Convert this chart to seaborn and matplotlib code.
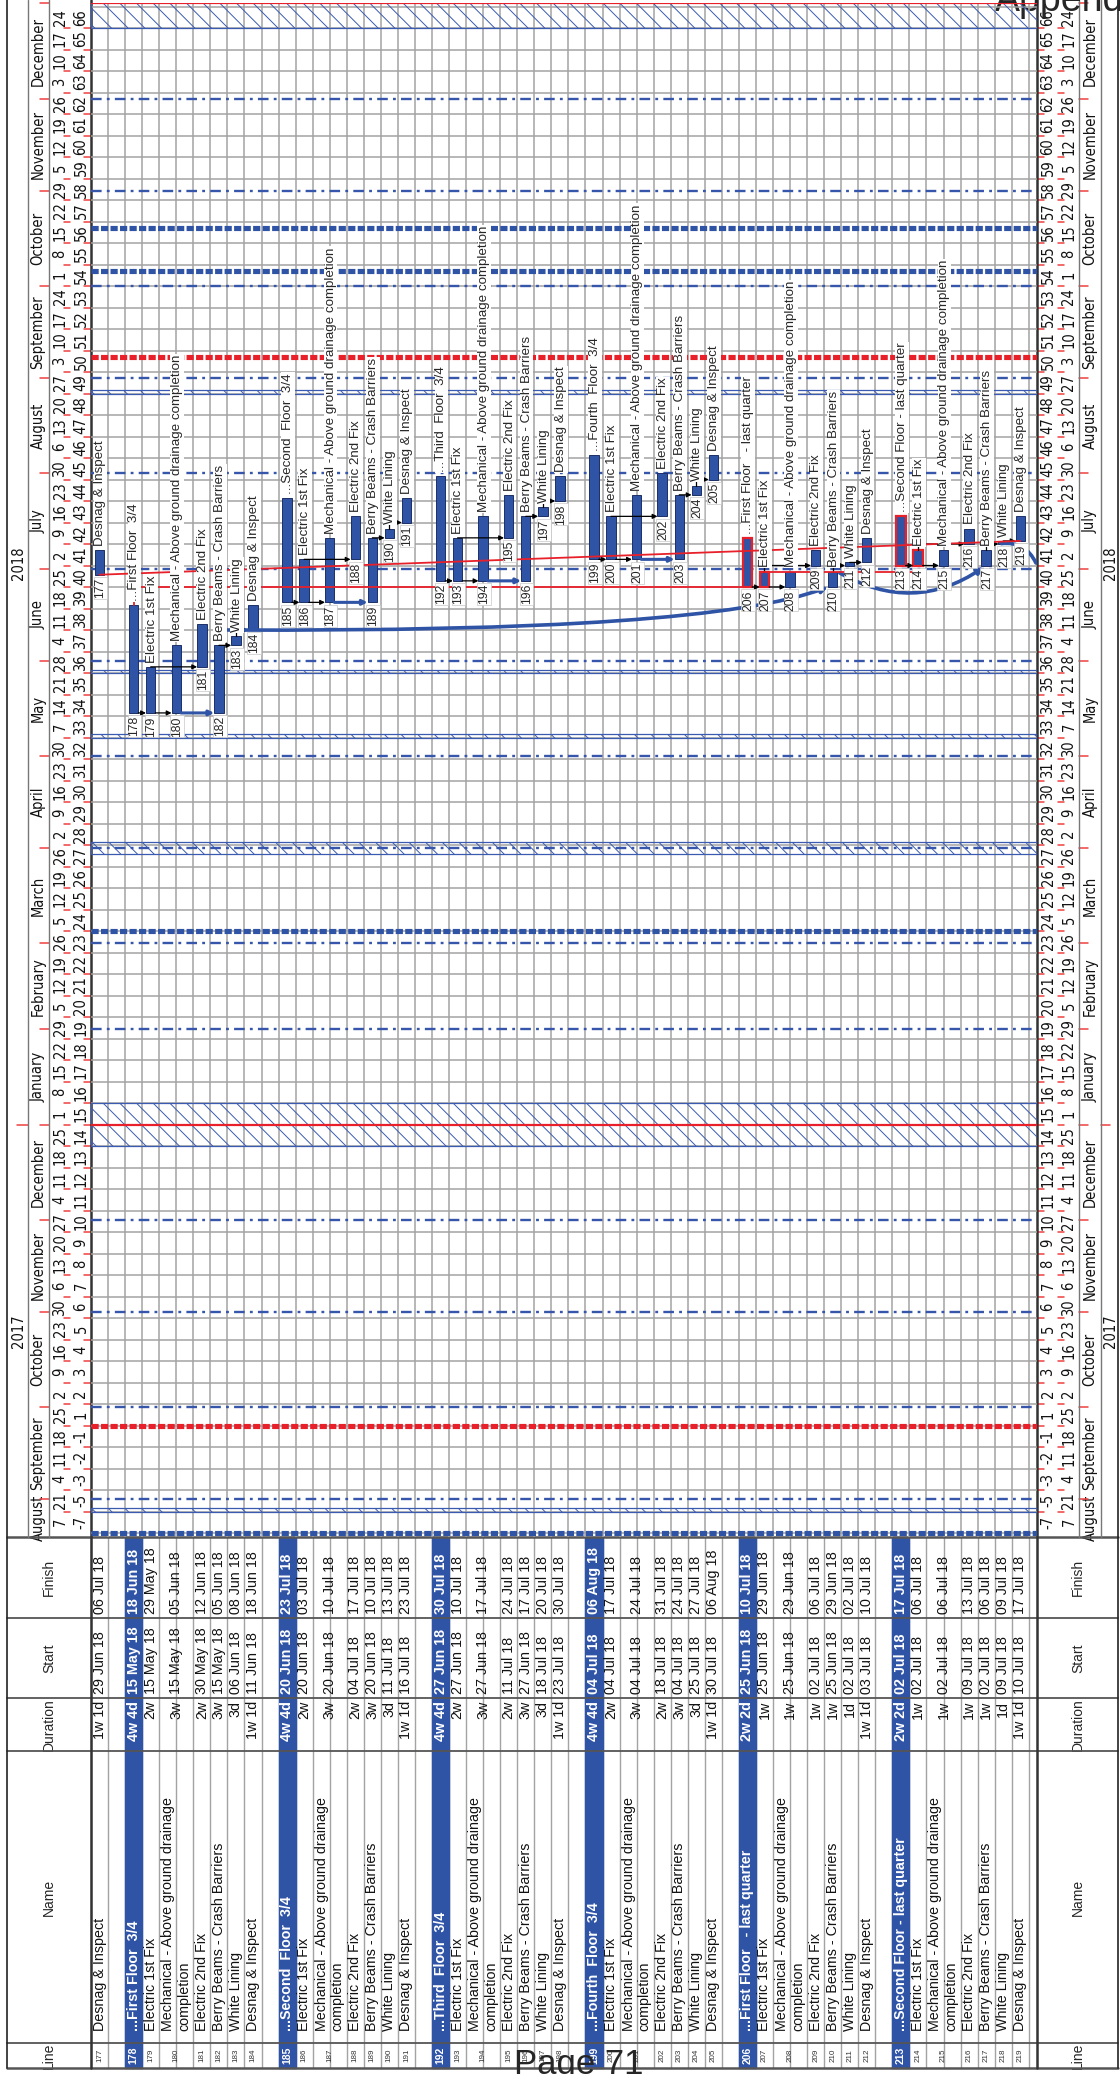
import pandas as pd
import numpy as np
import matplotlib
matplotlib.use("Agg")
import matplotlib.pyplot as plt
import matplotlib.transforms as mtransforms
from matplotlib.patches import Rectangle, FancyArrowPatch
from matplotlib.path import Path
import seaborn as sns

sns.set_theme(style="white")
plt.rcParams['font.family'] = ['Liberation Sans', 'DejaVu Sans']
plt.rcParams['hatch.color'] = '#3a5bb0'
plt.rcParams['hatch.linewidth'] = 0.7

line_no = [177, 178, 179, 180, 181, 182, 183, 184,
           185, 186, 187, 188, 189, 190, 191,
           192, 193, 194, 195, 196, 197, 198,
           199, 200, 201, 202, 203, 204, 205,
           206, 207, 208, 209, 210, 211, 212,
           213, 214, 215, 216, 217, 218, 219]
task_name = ['Desnag & Inspect', '...First Floor  3/4', 'Electric 1st Fix',
             'Mechanical - Above ground drainage\ncompletion', 'Electric 2nd Fix',
             'Berry Beams - Crash Barriers', 'White Lining', 'Desnag & Inspect',
             '...Second  Floor  3/4', 'Electric 1st Fix',
             'Mechanical - Above ground drainage\ncompletion', 'Electric 2nd Fix',
             'Berry Beams - Crash Barriers', 'White Lining', 'Desnag & Inspect',
             '...Third  Floor  3/4', 'Electric 1st Fix',
             'Mechanical - Above ground drainage\ncompletion', 'Electric 2nd Fix',
             'Berry Beams - Crash Barriers', 'White Lining', 'Desnag & Inspect',
             '...Fourth  Floor  3/4', 'Electric 1st Fix',
             'Mechanical - Above ground drainage\ncompletion', 'Electric 2nd Fix',
             'Berry Beams - Crash Barriers', 'White Lining', 'Desnag & Inspect',
             '...First Floor   - last quarter', 'Electric 1st Fix',
             'Mechanical - Above ground drainage\ncompletion', 'Electric 2nd Fix',
             'Berry Beams - Crash Barriers', 'White Lining', 'Desnag & Inspect',
             '...Second Floor - last quarter', 'Electric 1st Fix',
             'Mechanical - Above ground drainage\ncompletion', 'Electric 2nd Fix',
             'Berry Beams - Crash Barriers', 'White Lining', 'Desnag & Inspect']
duration = ['1w 1d', '4w 4d', '2w', '3w', '2w', '3w', '3d', '1w 1d',
            '4w 4d', '2w', '3w', '2w', '3w', '3d', '1w 1d',
            '4w 4d', '2w', '3w', '2w', '3w', '3d', '1w 1d',
            '4w 4d', '2w', '3w', '2w', '3w', '3d', '1w 1d',
            '2w 2d', '1w', '1w', '1w', '1w', '1d', '1w 1d',
            '2w 2d', '1w', '1w', '1w', '1w', '1d', '1w 1d']
start = ['29 Jun 18', '15 May 18', '15 May 18', '15 May 18', '30 May 18', '15 May 18', '06 Jun 18', '11 Jun 18',
         '20 Jun 18', '20 Jun 18', '20 Jun 18', '04 Jul 18', '20 Jun 18', '11 Jul 18', '16 Jul 18',
         '27 Jun 18', '27 Jun 18', '27 Jun 18', '11 Jul 18', '27 Jun 18', '18 Jul 18', '23 Jul 18',
         '04 Jul 18', '04 Jul 18', '04 Jul 18', '18 Jul 18', '04 Jul 18', '25 Jul 18', '30 Jul 18',
         '25 Jun 18', '25 Jun 18', '25 Jun 18', '02 Jul 18', '25 Jun 18', '02 Jul 18', '03 Jul 18',
         '02 Jul 18', '02 Jul 18', '02 Jul 18', '09 Jul 18', '02 Jul 18', '09 Jul 18', '10 Jul 18']
finish = ['06 Jul 18', '18 Jun 18', '29 May 18', '05 Jun 18', '12 Jun 18', '05 Jun 18', '08 Jun 18', '18 Jun 18',
          '23 Jul 18', '03 Jul 18', '10 Jul 18', '17 Jul 18', '10 Jul 18', '13 Jul 18', '23 Jul 18',
          '30 Jul 18', '10 Jul 18', '17 Jul 18', '24 Jul 18', '17 Jul 18', '20 Jul 18', '30 Jul 18',
          '06 Aug 18', '17 Jul 18', '24 Jul 18', '31 Jul 18', '24 Jul 18', '27 Jul 18', '06 Aug 18',
          '10 Jul 18', '29 Jun 18', '29 Jun 18', '06 Jul 18', '29 Jun 18', '02 Jul 18', '10 Jul 18',
          '17 Jul 18', '06 Jul 18', '06 Jul 18', '13 Jul 18', '06 Jul 18', '09 Jul 18', '17 Jul 18']
summary_rows = [178, 185, 192, 199, 206, 213]
critical_rows = [206, 207, 213, 214]

# links between tasks (predecessor, successor)
fs_links = [(179, 181), (182, 183), (183, 184), (186, 188), (189, 190), (190, 191),
            (193, 195), (196, 197), (197, 198), (200, 202), (203, 204), (204, 205),
            (207, 209), (210, 211), (211, 212), (214, 216), (217, 218), (218, 219)]
group_start_links = [(178, 179, 180), (185, 186, 187), (192, 193, 194),
                     (199, 200, 201), (206, 207, 208), (213, 214, 215)]
blue_start_links = [(180, 182), (187, 189), (194, 196), (201, 203)]
long_link = (183, 184, 210)          # leaves row 183 at the start of 184, ends at start of 210
sag_link = (210, 217, 0.32)          # finish of 210 -> start of 217
offpage_link = (218, '2018-07-02', -0.4)

# timescale
week_labels = ['-7', '-5', '-3', '-2', '-1'] + [str(w) for w in range(1, 67)]
day_labels = ['7', '21'] + [str(d.day) for d in pd.date_range('2017-09-04', '2018-12-24', freq='7D')]
month_starts = pd.date_range('2017-09-01', '2018-12-01', freq='MS')
dashdot_months = [m for m in month_starts if m.month != 1]
year_breaks = ['2018-01-01', '2019-01-01']
holidays = [('2017-08-28', '2017-08-29'), ('2017-12-25', '2018-01-08'), ('2018-03-30', '2018-04-03'),
            ('2018-05-07', '2018-05-08'), ('2018-05-28', '2018-05-29'), ('2018-08-27', '2018-08-28'),
            ('2018-12-24', '2019-01-02')]
red_markers = ['2017-09-25', '2018-09-08']
blue_markers = ['2017-08-21', '2018-03-05', '2018-10-06', '2018-10-20']

# ---------------- geometry ----------------
W, H = 1120, 2074
CH_L, CH_R, CH_T, CH_B = 91, 1037, 3, 1537
U = 17.05               # px per row unit
WK = 21.5               # px per week
REF = pd.Timestamp('2017-09-25')


def cell(d):
    return 5 + (pd.Timestamp(d) - REF) / pd.Timedelta(days=7)


CB = (1533 - CH_B) / WK
CT = (1533 - CH_T) / WK

df = pd.DataFrame({'line': line_no, 'name': task_name, 'dur': duration,
                   'start': start, 'finish': finish})
df['s'] = pd.to_datetime(df['start'], format='%d %b %y').map(cell)
df['e'] = (pd.to_datetime(df['finish'], format='%d %b %y') + pd.Timedelta(days=1)).map(cell)
df['summary'] = df['line'].isin(summary_rows)
df['h'] = np.where(df['name'].str.contains('\n'), 2, 1)
pos, lefts = 0, []
for i, r in df.iterrows():
    if r['summary'] and i > 0:
        pos += 1
    lefts.append(pos)
    pos += r['h']
df['left'] = lefts
df['x'] = df['left'] + df['h'] / 2
task = df.set_index('line')

fig = plt.figure(figsize=(W / 100, H / 100), dpi=100)
page = fig.add_axes([0, 0, 1, 1])
page.set_xlim(0, W)
page.set_ylim(H, 0)
page.axis('off')

ax = fig.add_axes([CH_L / W, (H - CH_B) / H, (CH_R - CH_L) / W, (CH_B - CH_T) / H])
XMAX = (CH_R - CH_L) / U
ax.set_xlim(0, XMAX)
ax.set_ylim(CB, CT)
ax.axis('off')

blue = '#2f53a5'
grid = '#a3a3a3'
red = '#e8202a'

# ---------------- chart grid and markers ----------------
ax.vlines(np.arange(1, 56), CB, CT, color=grid, lw=1.1, zorder=1)
ax.hlines(np.arange(0, 72), 0, XMAX, color=grid, lw=1.1, zorder=1)
for a, b in holidays:
    ax.add_patch(Rectangle((0, cell(a)), XMAX, cell(b) - cell(a), facecolor='none',
                           edgecolor='#3a5bb0', lw=0.9, hatch='\\\\', zorder=2))
for m in dashdot_months:
    ax.axhline(cell(m), color='#3656ac', lw=1.7, dashes=(4.5, 2.2, 1.2, 2.2), zorder=3)
for d in year_breaks:
    ax.axhline(cell(d), color=red, lw=1.6, zorder=3)
for d in red_markers:
    ax.axhline(cell(d), color=red, lw=3.7, dashes=(1.4, 0.45), zorder=3)
for d in blue_markers:
    ax.axhline(cell(d), color='#2f53a5', lw=3.7, dashes=(1.4, 0.45), zorder=3)

# ---------------- bars ----------------
bw = 0.55
for line, r in task.iterrows():
    crit = line in critical_rows
    ax.bar(r['x'], r['e'] - r['s'], bottom=r['s'], width=bw, color=blue,
           edgecolor=red if crit else '#1c2f66', lw=1.6 if crit else 0.7, zorder=5)
    ax.text(r['x'] + 0.05, r['e'] + 0.2, r['name'].replace('\n', ' '), rotation=90,
            ha='center', va='bottom', fontsize=9.6, zorder=7,
            bbox=dict(fc='white', ec='none', pad=0.6))
    ax.text(r['x'] + 0.05, r['s'] - 0.15, str(line), rotation=90, ha='center', va='top',
            fontsize=8.8, zorder=7, bbox=dict(fc='white', ec='#c8c8c8', lw=0.5, pad=0.6))


def arrow(x0, y0, x1, y1, color='black', lw=0.9, z=6):
    ax.annotate('', xy=(x1, y1), xytext=(x0, y0), zorder=z,
                arrowprops=dict(arrowstyle='-|>', color=color, lw=lw, mutation_scale=7,
                                shrinkA=0, shrinkB=0))


for p, s in fs_links:
    y = task.loc[s, 's']
    ax.plot([task.loc[p, 'x'], task.loc[p, 'x']], [task.loc[p, 'e'], y], color='black', lw=0.9, zorder=6)
    arrow(task.loc[p, 'x'], y, task.loc[s, 'x'] - bw / 2, y)
for sm, e1, mech in group_start_links:
    y = task.loc[sm, 's']
    arrow(task.loc[sm, 'x'] + bw / 2, y, task.loc[e1, 'x'] - bw / 2, y)
    arrow(task.loc[e1, 'x'] + bw / 2, y, task.loc[mech, 'x'] - bw / 2, y)
for p, s in blue_start_links:
    y = task.loc[s, 's']
    arrow(task.loc[p, 'x'] + bw / 2, y, task.loc[s, 'x'] - bw / 2, y, color='#2f53a5', lw=2.2)

# long sweeping link: flat first, then rising into the target start
src, ref_row, dst = long_link
p0 = (task.loc[src, 'left'], task.loc[ref_row, 's'])
p2 = (task.loc[dst, 'x'] - bw / 2, task.loc[dst, 's'])
ctrl = (p0[0] + 0.8 * (p2[0] - p0[0]), p0[1] - 0.12)
ax.add_patch(FancyArrowPatch(path=Path([p0, ctrl, p2], [Path.MOVETO, Path.CURVE3, Path.CURVE3]),
                             arrowstyle='-|>', mutation_scale=9, color='#2f53a5', lw=2.6, zorder=6))
p, s, rad = sag_link
ax.add_patch(FancyArrowPatch((task.loc[p, 'x'] + bw / 2, task.loc[p, 'e']), (task.loc[s, 'x'], task.loc[s, 's']),
                             connectionstyle=f'arc3,rad={rad}', arrowstyle='-|>', mutation_scale=9,
                             color='#2f53a5', lw=2.6, zorder=6))
p, d, rad = offpage_link
ax.add_patch(FancyArrowPatch((task.loc[p, 'x'] - bw / 2, task.loc[p, 's']), (XMAX, cell(d)),
                             connectionstyle=f'arc3,rad={rad}', arrowstyle='-', color='#2f53a5',
                             lw=2.6, zorder=6))

# critical path lines
y206 = task.loc[206, 's']
ax.plot([task.loc[178, 'x'], task.loc[178, 'x'], task.loc[206, 'x'] - bw / 2],
        [task.loc[178, 'e'], y206, y206], color=red, lw=1.3, zorder=6)
ax.plot([task.loc[177, 'x'], task.loc[219, 'x']], [task.loc[177, 's'], task.loc[219, 's']],
        color=red, lw=1.3, zorder=6)
ax.plot([task.loc[207, 'x'], task.loc[214, 'x'] - bw / 2], [task.loc[207, 'e'], task.loc[207, 'e']],
        color=red, lw=1.3, zorder=6)

# ---------------- timescale headers (both sides) ----------------
tcell = mtransforms.blended_transform_factory(page.transData, ax.transData)
hfont = dict(family='DejaVu Sans', fontstretch='condensed', fontsize=10.5, rotation=90,
             ha='center', va='center', transform=tcell, color='#111111')
cells = np.arange(71) + 0.5
for c, wl, dl in zip(cells, week_labels, day_labels):
    for xw, xd in [(81, 60), (1048, 1069)]:
        page.text(xw, c, wl, **hfont)
        page.text(xd, c, dl, **hfont)
month_edges = [CB] + [cell(m) for m in month_starts] + [cell('2019-01-01')]
month_names = ['August'] + [m.strftime('%B') for m in month_starts]
for a, b, nm in zip(month_edges[:-1], month_edges[1:], month_names):
    page.text(38, (a + b) / 2, nm, **hfont)
    page.text(1090, (a + b) / 2, nm, **hfont)
year_edges = [CB, cell('2018-01-01'), CT]
for a, b, nm in zip(year_edges[:-1], year_edges[1:], ['2017', '2018']):
    page.text(18, (a + b) / 2, nm, **hfont)
    page.text(1111, (a + b) / 2, nm, **hfont)
tick_kw = dict(color='#f04040', lw=1.1, transform=tcell, zorder=4)
for c in np.arange(1, 71):
    page.plot([64, 70], [c, c], **tick_kw)
    page.plot([84, 91], [c, c], **tick_kw)
    page.plot([1037, 1044], [c, c], **tick_kw)
    page.plot([1058, 1064], [c, c], **tick_kw)
for m in month_edges[1:]:
    page.plot([40, 49], [m, m], **tick_kw)
    page.plot([1079, 1088], [m, m], **tick_kw)
page.plot([17, 28], [cell('2018-01-01')] * 2, **tick_kw)
page.plot([1101, 1110], [cell('2018-01-01')] * 2, **tick_kw)

# ---------------- table ----------------
T0, FS, SD, DN, NL, TB = 1537, 1618, 1698, 1751, 2043, 2068
trow = mtransforms.blended_transform_factory(ax.transData, page.transData)
for line, r in task.iterrows():
    if r['summary']:
        page.add_patch(Rectangle((r['left'], T0), r['h'], TB - T0, transform=trow,
                                 color=blue, zorder=2))
page.vlines(np.arange(0, 56), T0, TB, color=grid, lw=1.0, transform=trow, zorder=1)
for line, r in task.iterrows():
    sm = r['summary']
    kw = dict(rotation=90, ha='center', transform=trow, zorder=3,
              color='white' if sm else '#111111', fontweight='bold' if sm else 'normal',
              fontsize=10.3)
    page.text(r['x'], FS - 4, r['finish'], va='bottom', **kw)
    page.text(r['x'], SD - 4, r['start'], va='bottom', **kw)
    page.text(r['x'], SD + 3, r['dur'], va='top', **kw)
    page.text(r['x'], NL - 12, r['name'], va='bottom', multialignment='left', **kw)
    page.text(r['x'], (NL + TB) / 2, str(line), rotation=90, ha='center', va='center',
              transform=trow, zorder=3, color='white' if sm else '#333333',
              fontsize=7.5 if sm else 5.8, fontweight='bold' if sm else 'normal')

for y in [T0, FS, SD, DN, NL, TB]:
    page.plot([7, 1118], [y, y], color='#555555', lw=1.3 if y not in (T0, TB) else 1.8, zorder=4)
for nm, a, b in [('Finish', T0, FS), ('Start', FS, SD), ('Duration', SD, DN),
                 ('Name', DN, NL), ('Line', NL, TB)]:
    for xh in (49, 1078):
        page.text(xh, (a + b) / 2, nm, rotation=90, ha='center', va='center', fontsize=10)

# frame and dividers
page.plot([CH_L, CH_L], [0, TB], color='#333333', lw=1.8, zorder=4)
page.plot([CH_R, CH_R], [0, TB], color='#333333', lw=1.8, zorder=4)
page.plot([7, 7], [0, TB], color='#222222', lw=1.2, zorder=4)
page.plot([1118, 1118], [0, TB], color='#222222', lw=1.2, zorder=4)
for xv in (28, 49, 1079, 1101):
    page.plot([xv, xv], [0, T0], color='#777777', lw=1.0, zorder=4)

page.text(514, 2074, 'Page 71', fontsize=25, ha='left', va='baseline', zorder=9)
page.text(995, 11, 'Appendix', fontsize=27, ha='left', va='baseline', zorder=9)

fig.savefig('out.png', dpi=100)
